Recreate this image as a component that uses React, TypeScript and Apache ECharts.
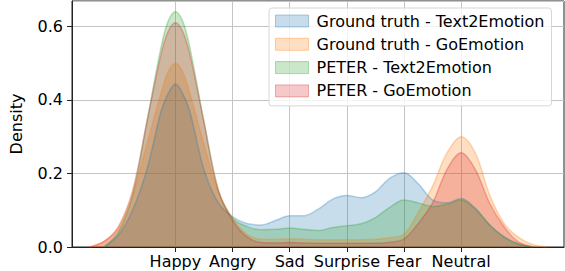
import React, { useEffect, useRef } from "react";
import * as echarts from "echarts";

const categories = ["Happy", "Angry", "Sad", "Surprise", "Fear", "Neutral"];
const seriesNames = [
  "Ground truth - Text2Emotion",
  "Ground truth - GoEmotion",
  "PETER - Text2Emotion",
  "PETER - GoEmotion",
];
const yTicks = [0, 0.2, 0.4, 0.6];

// x positions (category index units)
const xs = [
  -1.5, -1.25, -1.0, -0.75, -0.5, -0.25, -0.125, 0, 0.125, 0.25, 0.5, 0.75, 1.0, 1.25, 1.5, 1.75, 2.0,
  2.25, 2.5, 2.75, 3.0, 3.25, 3.5, 3.75, 4.0, 4.25, 4.5, 4.75, 5.0, 5.25, 5.5, 5.75, 6.0, 6.25, 6.5,
];

const gtText2Emotion = [
  null, 0.0, 0.032, 0.10, 0.21, 0.37, 0.418, 0.443, 0.418, 0.37, 0.21, 0.12, 0.082, 0.064, 0.060, 0.072,
  0.085, 0.085, 0.103, 0.130, 0.140, 0.134, 0.150, 0.187, 0.202, 0.172, 0.128, 0.120, 0.132, 0.105,
  0.060, 0.028, 0.008, 0.0, null,
];
const gtGoEmotion = [
  0.0, 0.015, 0.05, 0.14, 0.28, 0.42, 0.478, 0.50, 0.478, 0.42, 0.28, 0.15, 0.078, 0.035, 0.021, 0.021,
  0.022, 0.021, 0.020, 0.020, 0.020, 0.020, 0.021, 0.025, 0.035, 0.095, 0.165, 0.255, 0.300, 0.255,
  0.141, 0.064, 0.027, 0.007, 0.0,
];
const peterText2Emotion = [
  null, 0.0, 0.04, 0.14, 0.34, 0.545, 0.615, 0.64, 0.615, 0.545, 0.34, 0.155, 0.078, 0.056, 0.047,
  0.048, 0.052, 0.048, 0.045, 0.053, 0.058, 0.063, 0.080, 0.108, 0.128, 0.120, 0.110, 0.117, 0.128,
  0.103, 0.060, 0.027, 0.008, 0.0, null,
];
const peterGoEmotion = [
  0.0, 0.015, 0.055, 0.153, 0.34, 0.525, 0.587, 0.61, 0.587, 0.525, 0.34, 0.155, 0.072, 0.028, 0.012,
  0.011, 0.012, 0.011, 0.010, 0.010, 0.010, 0.010, 0.010, 0.013, 0.022, 0.064, 0.120, 0.210, 0.256,
  0.210, 0.119, 0.055, 0.014, 0.001, null,
];

const colors = ["31,119,180", "255,127,14", "44,160,44", "214,39,40"];
const allValues = [gtText2Emotion, gtGoEmotion, peterText2Emotion, peterGoEmotion];

const FONT = "DejaVu Sans";

export default function App() {
  const ref = useRef<HTMLDivElement>(null);
  useEffect(() => {
    if (!ref.current) return;
    const chart = echarts.init(ref.current, null, { renderer: "svg" });
    const series = allValues.map((vals, si) => ({
      name: seriesNames[si],
      type: "line",
      data: xs
        .map((x, i) => (vals[i] === null ? null : [x, vals[i]]))
        .filter((d) => d !== null),
      smooth: 0.35,
      showSymbol: false,
      symbol: "none",
      lineStyle: { color: `rgba(${colors[si]},0.3)`, width: 1.5 },
      areaStyle: { color: `rgba(${colors[si]},0.25)`, opacity: 1 },
      itemStyle: { color: `rgba(${colors[si]},0.25)` },
    }));
    chart.setOption({
      animation: false,
      textStyle: { fontFamily: FONT },
      grid: {
        left: 57,
        right: 1,
        top: 1,
        bottom: 24,
        show: true,
        borderColor: "#222",
        borderWidth: 1,
        backgroundColor: "transparent",
      },
      legend: {
        left: 269,
        top: 8,
        orient: "vertical",
        icon: "rect",
        itemWidth: 33,
        itemHeight: 12,
        itemGap: 5.3,
        padding: [4, 7, 6, 6],
        backgroundColor: "rgba(255,255,255,0.8)",
        borderColor: "#d6d6d6",
        borderWidth: 1,
        borderRadius: 3,
        textStyle: { fontFamily: FONT, fontSize: 16, color: "#000", lineHeight: 18, padding: [0, 0, 0, 3] },
        data: seriesNames.map((n, i) => ({
          name: n,
          itemStyle: {
            color: `rgba(${colors[i]},0.25)`,
            borderColor: `rgba(${colors[i]},0.35)`,
            borderWidth: 1,
          },
        })),
      },
      xAxis: {
        type: "value",
        min: -1.81,
        max: 6.8,
        axisLine: { show: true, onZero: false, lineStyle: { color: "#222", width: 1 } },
        axisTick: {
          show: true,
          length: 5,
          customValues: categories.map((_, i) => i),
          lineStyle: { color: "#222" },
        },
        axisLabel: {
          customValues: categories.map((_, i) => i),
          formatter: (v: number) => categories[Math.round(v)] ?? "",
          fontFamily: FONT,
          fontSize: 16,
          color: "#000",
          margin: 6,
        },
        splitLine: { show: true, lineStyle: { color: "#c4c4c4", width: 1 } },
      },
      yAxis: {
        type: "value",
        min: 0,
        max: 0.669,
        interval: 0.2,
        name: "Density",
        nameLocation: "middle",
        nameRotate: 90,
        nameGap: 48,
        nameTextStyle: { fontFamily: FONT, fontSize: 16, color: "#000" },
        axisLine: { show: true, onZero: false, lineStyle: { color: "#222", width: 1 } },
        axisTick: { show: true, length: 5, lineStyle: { color: "#222" } },
        axisLabel: {
          showMaxLabel: false,
          formatter: (v: number) =>
            yTicks.some((t) => Math.abs(t - v) < 1e-6) ? v.toFixed(1) : "",
          fontFamily: FONT,
          fontSize: 16,
          color: "#000",
          margin: 9,
        },
        splitLine: { show: true, lineStyle: { color: "#c4c4c4", width: 1 } },
      },
      series,
    });
    return () => chart.dispose();
  }, []);
  return (
    <div
      ref={ref}
      style={{ position: "fixed", left: 0, top: 0, width: 565, height: 271, background: "#fff" }}
    />
  );
}
